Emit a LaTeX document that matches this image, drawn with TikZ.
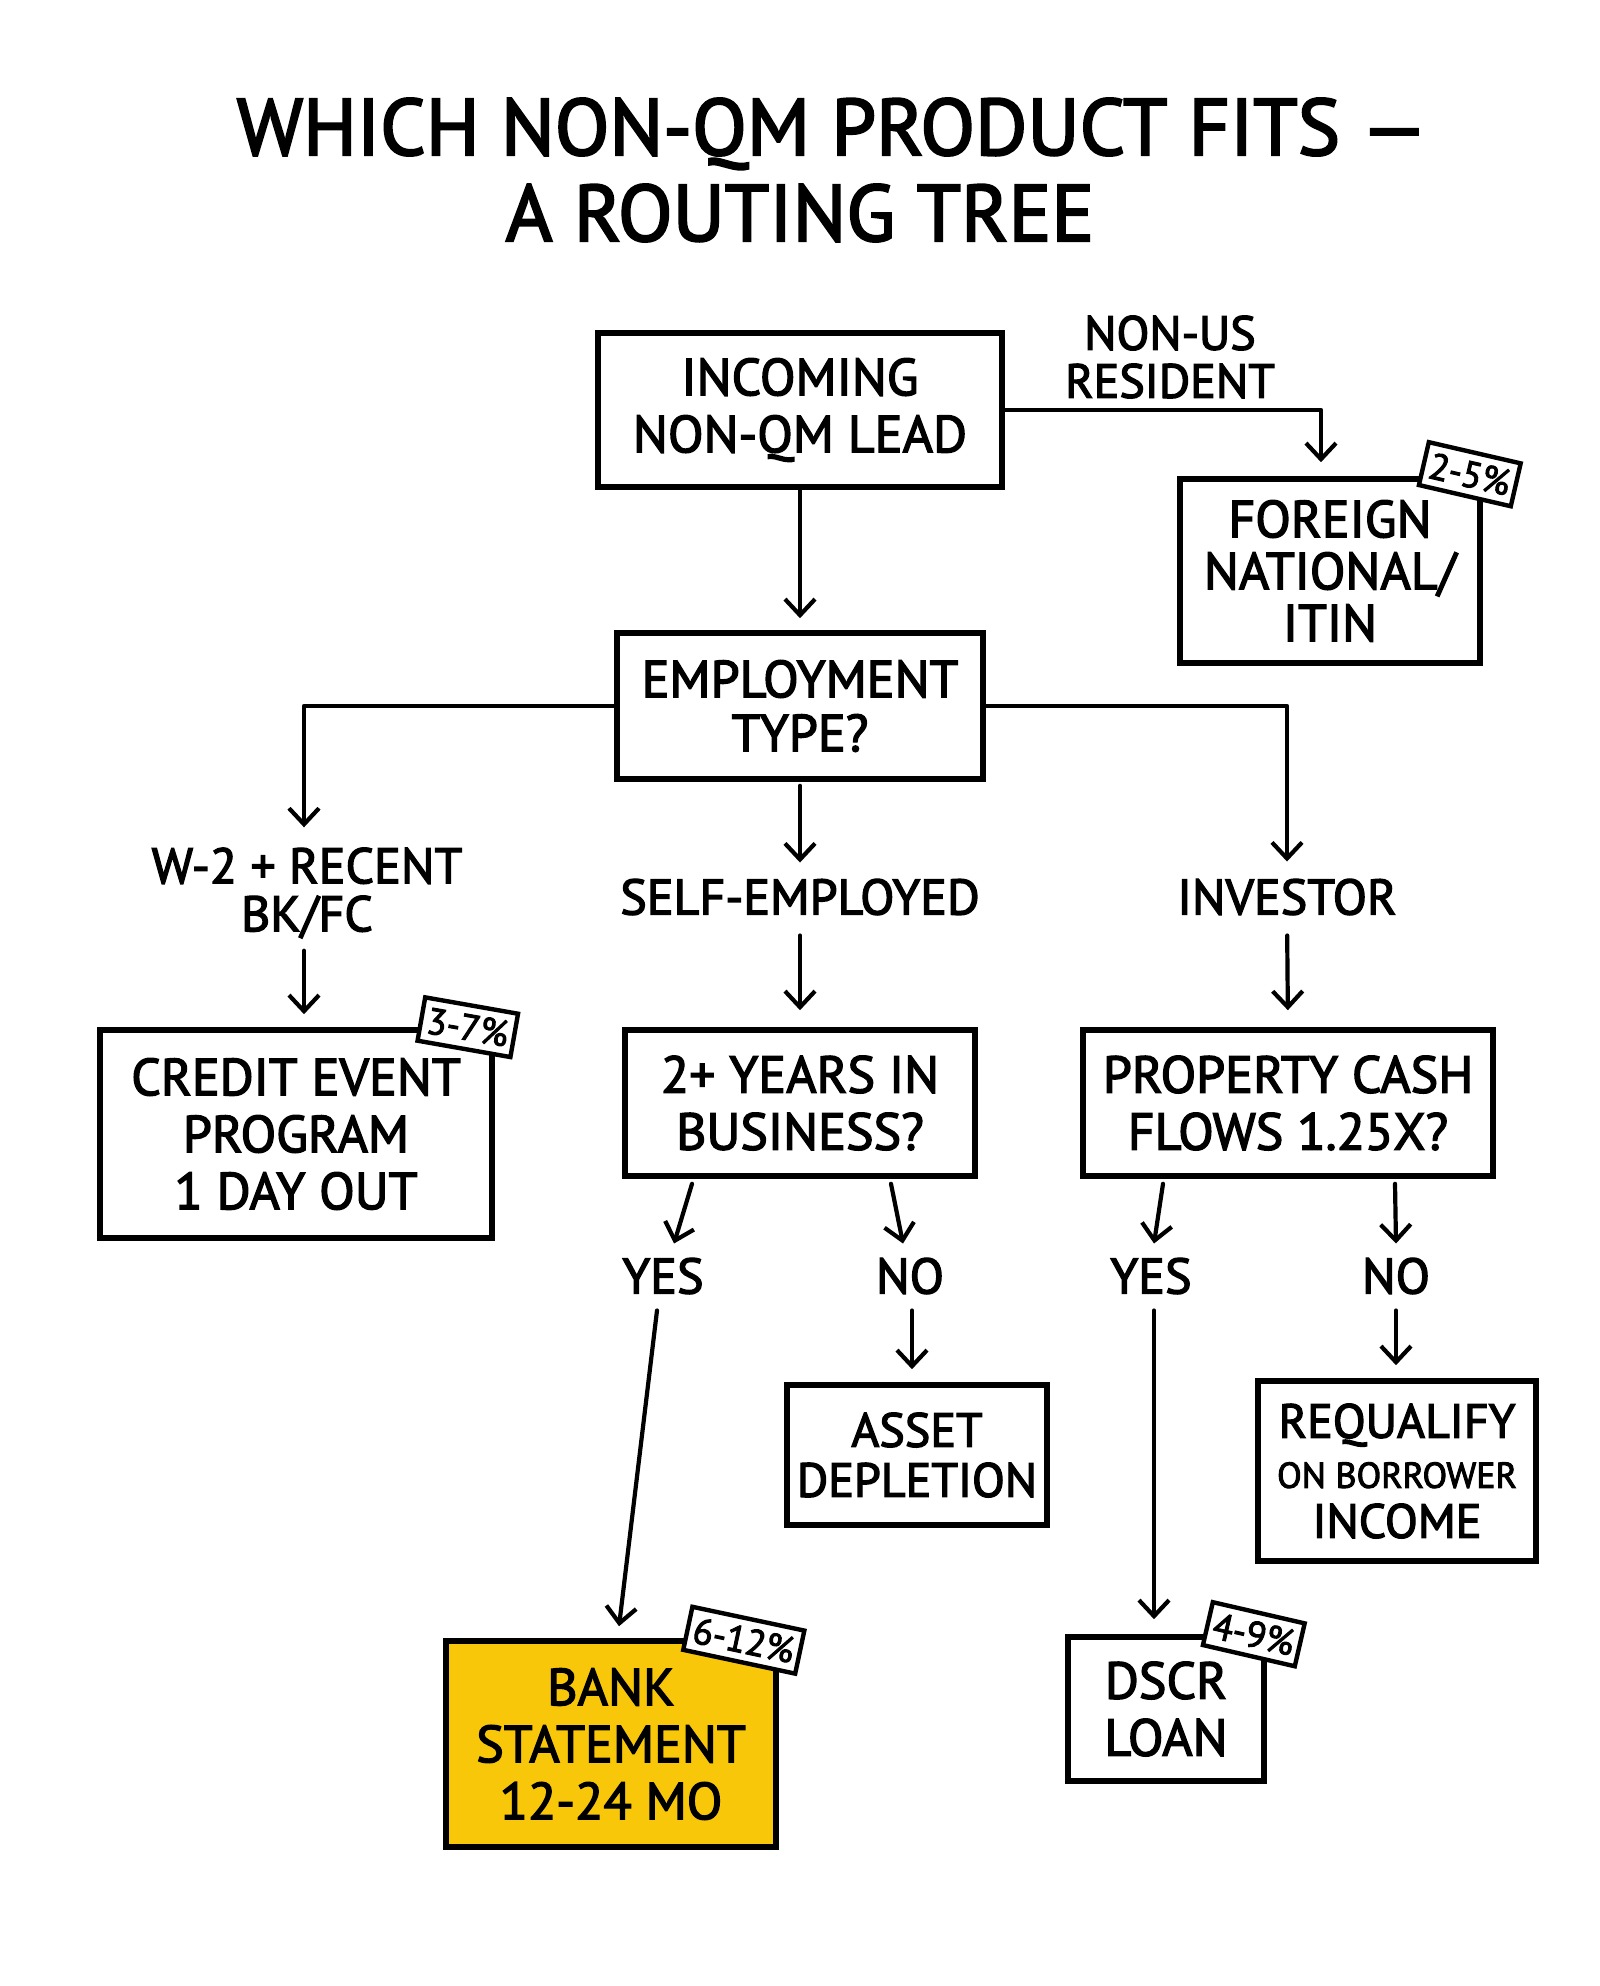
\documentclass[tikz,border=0pt]{standalone}
\usepackage{fontspec}
\usetikzlibrary{arrows.meta}
\newfontfamily\hand[FakeBold=2.6]{PT Sans}
\definecolor{ylw}{HTML}{F8C70A}
\newcommand{\boxfont}{\hand\fontsize{26}{28.5}\selectfont}
\newcommand{\lblfont}{\hand\fontsize{25}{24}\selectfont}
\newcommand{\tagfont}{\hand\fontsize{18.5}{18}\selectfont}
\newcommand{\titlefont}{\hand\fontsize{40}{43}\selectfont}
\tikzset{
  box/.style={draw, line width=2.8pt, align=center, inner sep=0pt, font=\boxfont, fill=white},
  lbl/.style={inner sep=0pt, align=center, font=\lblfont},
  tagbox/.style={draw, line width=2.2pt, fill=white, font=\tagfont, inner xsep=3pt, inner ysep=2.5pt, minimum height=22pt},
  arr/.style={line width=2.1pt, -{Straight Barb[length=8pt,width=15pt,line width=2.1pt]}, line cap=round, line join=round},
}
\begin{document}
\begin{tikzpicture}[x=0.5pt, y=-0.5pt]
\fill[white] (0,0) rectangle (1600,1986);
\useasboundingbox (0,0) rectangle (1600,1986);

% title
\node[font=\titlefont, anchor=base, inner sep=0pt] (title1) at (832,155) {WHICH NON-QM PRODUCT FITS —};
\node[font=\titlefont, anchor=base, inner sep=0pt] (title2) at (800,241) {A ROUTING TREE};

% boxes
\node[box, minimum width=202pt, minimum height=77pt] (inc) at (800,410) {INCOMING\\NON-QM LEAD};
\node[box, minimum width=150pt, minimum height=92pt, font=\hand\fontsize{26}{26}\selectfont] (foreign) at (1330,571) {FOREIGN\\NATIONAL/\\ITIN};
\node[box, minimum width=183pt, minimum height=73pt, font=\hand\fontsize{26}{27}\selectfont] (emp) at (800,706) {EMPLOYMENT\\TYPE?};
\node[box, minimum width=196pt, minimum height=104pt] (credit) at (296,1134) {CREDIT EVENT\\PROGRAM\\1 DAY OUT};
\node[box, minimum width=175pt, minimum height=73pt] (years) at (800,1103) {2+ YEARS IN\\BUSINESS?};
\node[box, minimum width=205pt, minimum height=73pt] (prop) at (1288,1103) {PROPERTY CASH\\FLOWS 1.25X?};
\node[box, minimum width=130pt, minimum height=70pt, font=\hand\fontsize{24}{25}\selectfont] (asset) at (917,1455) {ASSET\\DEPLETION};
\node[box, minimum width=165pt, minimum height=103pt, fill=ylw] (bank) at (611,1744) {BANK\\STATEMENT\\12-24 MO};
\node[box, minimum width=98pt, minimum height=72pt] (dscr) at (1166,1709) {DSCR\\LOAN};
\node[box, minimum width=139pt, minimum height=90pt, font=\hand\fontsize{24}{25}\selectfont] (req) at (1397,1471) {REQUALIFY\\{\hand\fontsize{18}{25}\selectfont ON BORROWER}\\INCOME};

% labels
\node[lbl, font=\hand\fontsize{24}{24}\selectfont] (nonus) at (1170,357) {NON-US\\RESIDENT};
\node[lbl] (w2) at (307,893) {W-2 + RECENT\\BK/FC};
\node[lbl] (self) at (800,897) {SELF-EMPLOYED};
\node[lbl] (inv) at (1287,897) {INVESTOR};
\node[lbl] (yes1) at (663,1276) {YES};
\node[lbl] (no1) at (910,1276) {NO};
\node[lbl] (yes2) at (1151,1276) {YES};
\node[lbl] (no2) at (1396,1276) {NO};

% tags
\node[tagbox, rotate=-13] (tag1) at ([xshift=-6.5pt, yshift=1pt]foreign.north east) {2-5\%};
\node[tagbox, rotate=-10] (tag2) at ([xshift=-13.5pt, yshift=0pt]credit.north east) {3-7\%};
\node[tagbox, rotate=-12] (tag3) at ([xshift=-17.5pt, yshift=-1pt]bank.north east) {6-12\%};
\node[tagbox, rotate=-13] (tag4) at ([xshift=-6.5pt, yshift=0pt]dscr.north east) {4-9\%};

% connectors
\draw[arr, shorten >=7pt] (inc.east) -| ([xshift=-4.5pt]foreign.north);
\draw[arr, shorten >=6pt] (inc.south) -- (emp.north);
\draw[arr, shorten >=10pt] (emp.west) -| ([xshift=-1.5pt]w2.north);
\draw[arr, shorten <=2pt, shorten >=8pt] (emp.south) -- (self.north);
\draw[arr, shorten >=8.5pt] (emp.east) -| (inv.north);
\draw[arr, shorten <=6pt, shorten >=6.5pt] ([xshift=-1.5pt]w2.south) -- ([xshift=-1.5pt]w2.south |- credit.north);
\draw[arr, shorten <=10pt, shorten >=8.5pt] (self.south) -- (years.north);
\draw[arr, shorten <=10pt, shorten >=8.5pt] (inv.south) -- (prop.north);
\draw[arr] ([xshift=-54pt, yshift=-2.5pt]years.south) -- ([xshift=5.5pt, yshift=7pt]yes1.north);
\draw[arr] ([xshift=45.5pt, yshift=-2.5pt]years.south) -- ([xshift=-3.5pt, yshift=7pt]no1.north);
\draw[arr] ([xshift=-62.5pt, yshift=-2.5pt]prop.south) -- ([xshift=1.5pt, yshift=7pt]yes2.north);
\draw[arr] ([xshift=53.5pt, yshift=-2.5pt]prop.south) -- ([yshift=7pt]no2.north);
\draw[arr, shorten <=8pt, shorten >=6.5pt] ([xshift=1pt]no1.south) -- ([xshift=1pt]no1.south |- asset.north);
\draw[arr] ([xshift=-3pt, yshift=-8pt]yes1.south) -- ([xshift=4pt, yshift=6pt]bank.north);
\draw[arr, shorten <=8pt, shorten >=7.5pt] ([xshift=1.5pt]yes2.south) -- ([xshift=1.5pt]yes2.south |- dscr.north);
\draw[arr, shorten <=8pt, shorten >=6.5pt] (no2.south) -- (no2.south |- req.north);
\end{tikzpicture}
\end{document}
